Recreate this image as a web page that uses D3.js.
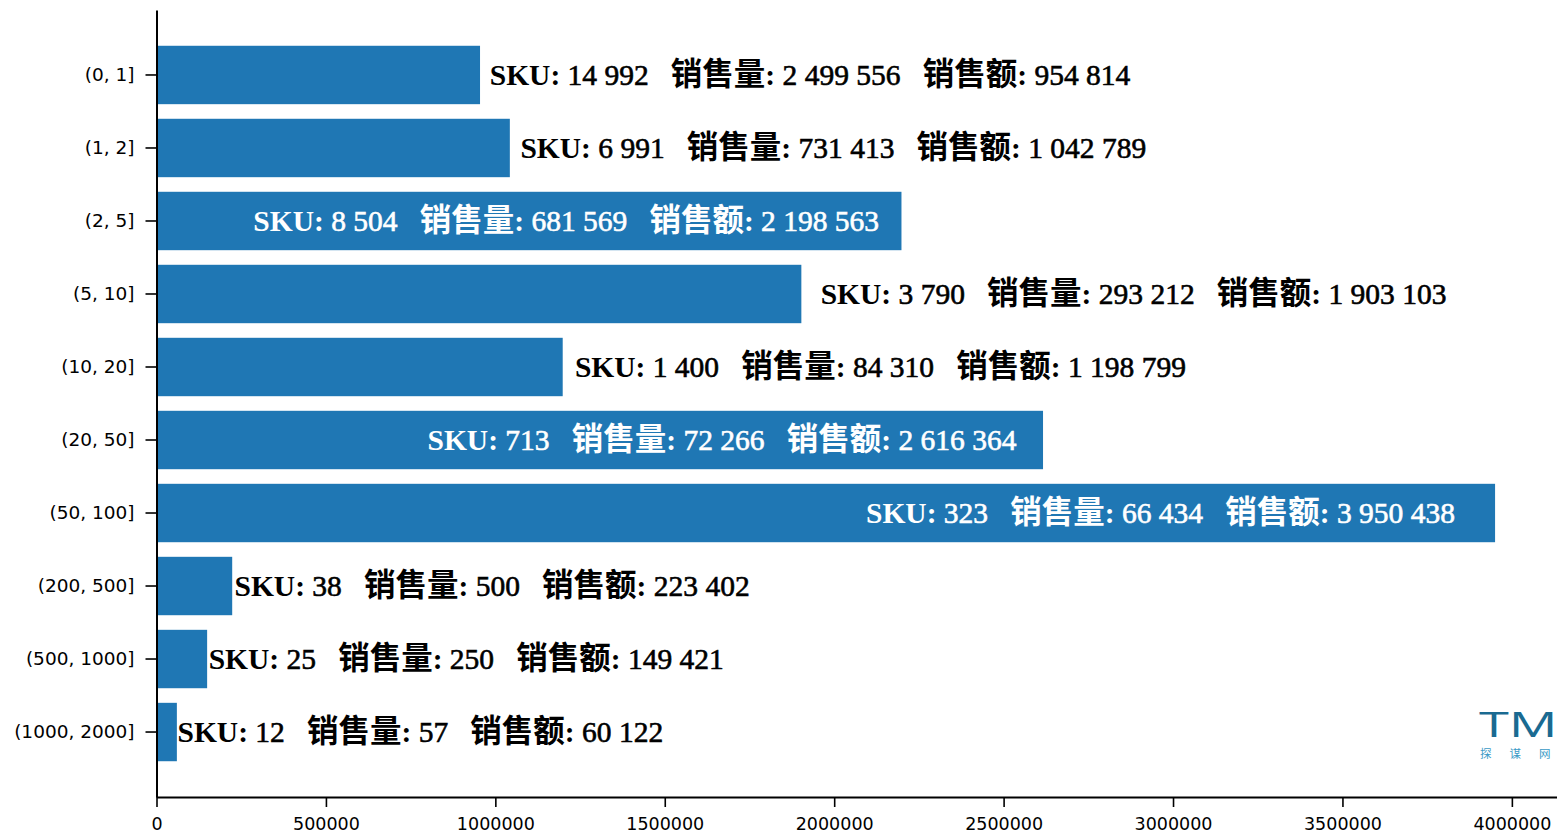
<!DOCTYPE html>
<html>
<head>
<meta charset="utf-8">
<script src="https://cdn.jsdelivr.net/npm/d3@7"></script>
<style>
body { margin: 0; background: #fff; }
svg { display: block; }
</style>
</head>
<body>
<script>
let width = 1557
let height = 836

// data
let cats = ["(0, 1]", "(1, 2]", "(2, 5]", "(5, 10]", "(10, 20]", "(20, 50]", "(50, 100]", "(200, 500]", "(500, 1000]", "(1000, 2000]"]
let sku = [14992, 6991, 8504, 3790, 1400, 713, 323, 38, 25, 12]
let qty = [2499556, 731413, 681569, 293212, 84310, 72266, 66434, 500, 250, 57]
let amt = [954814, 1042789, 2198563, 1903103, 1198799, 2616364, 3950438, 223402, 149421, 60122]
let xTicks = [0, 500000, 1000000, 1500000, 2000000, 2500000, 3000000, 3500000, 4000000]

let rows = cats.map((c, i) => ({cat: c, sku: sku[i], qty: qty[i], amt: amt[i]}))

let svg = d3.select("body")
  .append("svg")
  .attr("width", width)
  .attr("height", height)

let fmt = d3.formatLocale({decimal: ".", thousands: " ", grouping: [3], currency: ["", ""]}).format(",d")

//scales
let x = d3.scaleLinear()
  .domain([0, d3.max(amt) * 1.05])
  .range([156.5, 1562])

let y = d3.scaleBand()
  .domain(cats)
  .range([10, 797])
  .paddingInner(0.2)
  .paddingOuter(0.49)

svg.selectAll("rect.bar")
  .data(rows)
  .enter()
  .append("rect")
  .attr("class", "bar")
  .attr("x", x(0))
  .attr("y", d => y(d.cat))
  .attr("width", d => x(d.amt) - x(0))
  .attr("height", y.bandwidth())
  .style("fill", "#1f77b4")

// labels: inside the bar for long bars, right after it otherwise
let inside = d => d.amt > 2000000

let lab = svg.selectAll("text.lab")
  .data(rows)
  .enter()
  .append("text")
  .attr("class", "lab")
  .attr("xml:space", "preserve")
  .style("white-space", "pre")
  .attr("x", d => inside(d) ? x(d.amt * 0.97) : x(d.amt * 1.03))
  .attr("y", d => y(d.cat) + y.bandwidth() / 2)
  .attr("dy", "0.34em")
  .attr("text-anchor", d => inside(d) ? "end" : "start")
  .style("font-family", "'Liberation Serif', 'Noto Sans CJK SC', serif")
  .style("font-weight", "bold")
  .style("font-size", "29.5px")
  .style("fill", d => inside(d) ? "#ffffff" : "#000000")

// [kind, text]: "k" = bold key, "c" = chinese key, "n" = number
let parts = d => [
  ["k", "SKU: "],
  ["n", fmt(d.sku) + "   "],
  ["c", "销售量"],
  ["k", ": "],
  ["n", fmt(d.qty) + "   "],
  ["c", "销售额"],
  ["k", ": "],
  ["n", fmt(d.amt)]
]

lab.each(function(d) {
  let t = d3.select(this)
  t.selectAll("tspan")
    .data(parts(d))
    .enter()
    .append("tspan")
    .style("font-size", p => p[0] == "c" ? "31.5px" : null)
    .style("font-weight", p => p[0] == "n" ? "normal" : null)
    .style("stroke", p => p[0] == "n" ? (inside(d) ? "#ffffff" : "#000000") : null)
    .style("stroke-width", p => p[0] == "n" ? 0.6 : null)
    .text(p => p[1])
})

// axes
let xAxis = d3.axisBottom(x)
  .tickValues(xTicks)
  .tickFormat(d3.format("d"))
  .tickSize(10)
  .tickSizeOuter(0)

let yAxis = d3.axisLeft(y)
  .tickSize(11)
  .tickSizeOuter(0)

let gx = svg.append("g")
  .attr("transform", "translate(0,797)")
  .call(xAxis)

let gy = svg.append("g")
  .attr("transform", "translate(156.5,0)")
  .call(yAxis)

;[gx, gy].forEach(g => {
  g.select(".domain").attr("stroke", "#000").attr("stroke-width", 2)
  g.selectAll(".tick line").attr("stroke", "#000").attr("stroke-width", 1.6)
  g.selectAll(".tick text")
    .style("font-family", "'DejaVu Sans', sans-serif")
    .style("font-size", "17.5px")
    .attr("fill", "#000")
})
gx.selectAll(".tick text").attr("y", 16).attr("dy", "0.95em")
gy.selectAll(".tick text").attr("x", -22).style("font-size", "18.5px")

// watermark
let logo = svg.append("g")
  .attr("transform", "translate(1479,737)")
let mark = logo.append("text")
  .attr("transform", "scale(1.55,1)")
  .style("font-family", "'Open Sans', sans-serif")
  .style("font-weight", 400)
  .style("font-size", "35px")
mark.append("tspan").text("TM").style("fill", "#1a6a91")
mark.append("tspan").text("C").style("fill", "#2aa8d0")
logo.append("text")
  .attr("x", 1)
  .attr("y", 21)
  .style("letter-spacing", "18px")
  .text("探谋网")
  .style("font-family", "'Noto Sans CJK SC', sans-serif")
  .style("font-size", "11.5px")
  .style("fill", "#3a9ac6")
</script>
</body>
</html>
